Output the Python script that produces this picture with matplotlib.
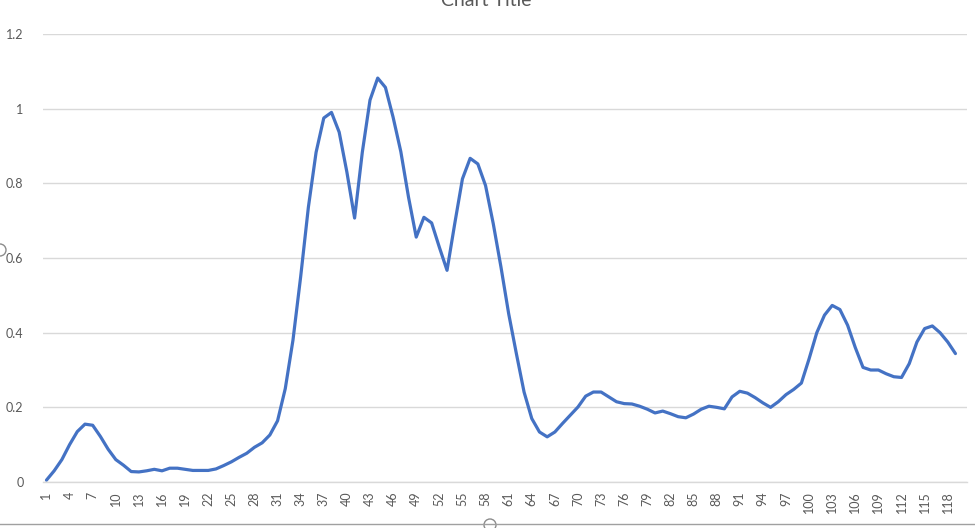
## Excel style line chart, single series
import matplotlib
matplotlib.use('Agg')
import matplotlib.pyplot as plt
from matplotlib.patches import Circle
import numpy as np

# values, index 1..119
categories = list(range(1, 120))
values = [
    0.005, 0.03, 0.06, 0.10, 0.135, 0.155, 0.152, 0.122, 0.088, 0.06,
    0.045, 0.028, 0.027, 0.03, 0.034, 0.03, 0.037, 0.037, 0.034, 0.031,
    0.031, 0.031, 0.035, 0.044, 0.054, 0.066, 0.077, 0.093, 0.105, 0.126,
    0.164, 0.25, 0.38, 0.55, 0.736, 0.883, 0.975, 0.99, 0.937, 0.83,
    0.707, 0.883, 1.023, 1.082, 1.057, 0.977, 0.885, 0.763, 0.656, 0.709,
    0.694, 0.629, 0.567, 0.692, 0.812, 0.867, 0.852, 0.794, 0.692, 0.576,
    0.451, 0.344, 0.241, 0.17, 0.134, 0.121, 0.134, 0.157, 0.179, 0.201,
    0.23, 0.241, 0.241, 0.228, 0.215, 0.21, 0.209, 0.203, 0.195, 0.185,
    0.19, 0.183, 0.175, 0.172, 0.182, 0.195, 0.203, 0.2, 0.196, 0.228,
    0.243, 0.238, 0.226, 0.212, 0.2, 0.215, 0.234, 0.248, 0.265, 0.33,
    0.40, 0.447, 0.473, 0.462, 0.42, 0.36, 0.307, 0.30, 0.30, 0.29,
    0.282, 0.28, 0.317, 0.375, 0.411, 0.418, 0.40, 0.375, 0.344,
]
xticklabels = [str(c) for c in categories if (c - 1) % 3 == 0]
yticks = [0, 0.2, 0.4, 0.6, 0.8, 1, 1.2]
ytickLabels = ['0', '0.2', '0.4', '0.6', '0.8', '1', '1.2']

plt.rcParams['font.family'] = ['Lato', 'DejaVu Sans']
textColor = '#595959'
gridColor = '#D9D9D9'

fig = plt.figure(figsize=(9.75, 5.28), dpi=100)
ax = fig.add_axes([0.0441, 0.0871, 0.9477, 0.8485])

ax.plot(categories, values, color='#4472C4', linewidth=2.3,
        solid_joinstyle='round', solid_capstyle='round')

ax.set_ylim(0, 1.2)
ax.set_xlim(0.55, 120.5)
ax.set_yticks(yticks)
ax.set_yticklabels(ytickLabels)
ax.set_xticks([c for c in categories if (c - 1) % 3 == 0])
ax.set_xticklabels(xticklabels, rotation=90)

ax.grid(axis='y', color=gridColor, linewidth=1)
ax.set_axisbelow(True)
for side in ['top', 'right', 'left']:
    ax.spines[side].set_visible(False)
ax.spines['bottom'].set_color(gridColor)
ax.spines['bottom'].set_linewidth(1)

ax.tick_params(axis='both', length=0, labelsize=9, labelcolor=textColor)
ax.tick_params(axis='y', pad=14)
ax.tick_params(axis='x', pad=7)

fig.text(486 / 975, 1 - 6 / 528, 'Chart Title', ha='center', va='baseline',
         fontsize=14, color=textColor)

# selection frame bits from the screenshot
fig.add_artist(plt.Line2D([0, 1], [1 - 524 / 528, 1 - 524 / 528],
                          transform=fig.transFigure, color='#A0A0A0', linewidth=1))
for (px, py) in [(0, 250), (490, 525)]:
    fig.add_artist(matplotlib.patches.Ellipse((px / 975, 1 - py / 528), 12 / 975, 12 / 528,
                                              transform=fig.transFigure, facecolor='white',
                                              edgecolor='#8C8C8C', linewidth=1))

fig.savefig('out.png', dpi=100)
